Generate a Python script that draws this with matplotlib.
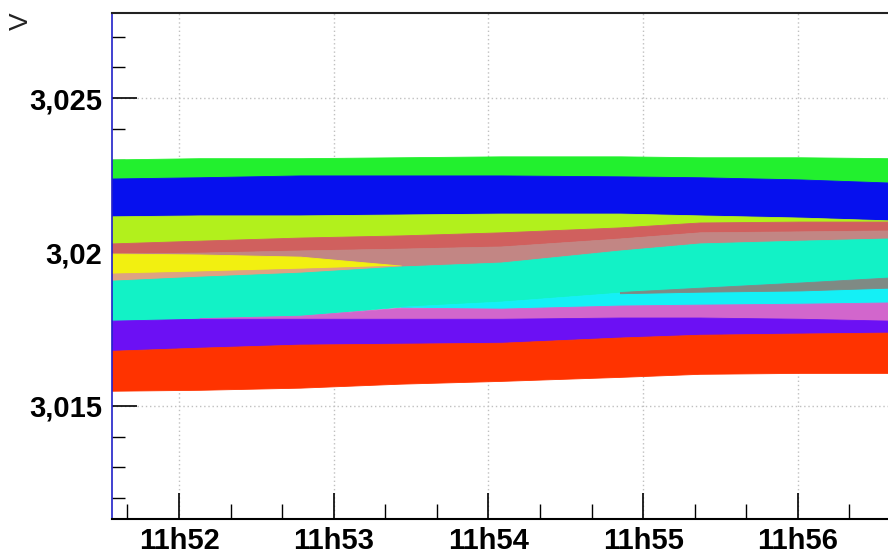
import numpy as np
import pandas as pd
import matplotlib
matplotlib.use("Agg")
import matplotlib.pyplot as plt
import matplotlib.dates as mdates
from matplotlib.ticker import FixedLocator, FixedFormatter

# ---------------- data ----------------
times = ["11:51:34", "11:52:08", "11:52:47", "11:53:26", "11:54:05",
         "11:54:51", "11:55:22", "11:56:01", "11:56:35"]

nan = np.nan
green_hi = [3.02301, 3.02305, 3.02305, 3.02308, 3.02311, 3.02311, 3.02308, 3.02308, 3.02305]
green_lo = [3.02239, 3.02243, 3.02249, 3.02249, 3.02249, 3.02246, 3.02243, 3.02236, 3.02226]
blue_hi = [3.02239, 3.02243, 3.02249, 3.02249, 3.02249, 3.02246, 3.02243, 3.02236, 3.02226]
blue_lo = [3.02116, 3.02119, 3.02119, 3.02122, 3.02125, 3.02125, 3.02119, 3.02112, 3.02103]
lime_hi = [3.02116, 3.02119, 3.02119, 3.02122, 3.02125, 3.02125, 3.02119, 3.02112, 3.02103]
lime_lo = [3.02028, 3.02037, 3.02047, 3.02054, 3.02064, 3.02080, 3.02096, 3.02099, 3.02099]
indred_hi = [3.02028, 3.02037, 3.02047, 3.02054, 3.02064, 3.02080, 3.02096, 3.02099, 3.02099]
indred_lo = [3.01995, 3.01998, 3.02005, 3.02011, 3.02018, 3.02044, 3.02064, 3.02067, 3.02070]
rosy_hi = [3.01995, 3.01998, 3.02005, 3.02011, 3.02018, 3.02044, 3.02064, 3.02067, 3.02070]
rosy_lo = [3.01907, 3.01920, 3.01933, 3.01953, 3.01966, 3.02005, 3.02028, 3.02037, 3.02044]
yellow_hi = [3.01995, 3.01992, 3.01985, 3.01956, nan, nan, nan, nan, nan]
yellow_lo = [3.01930, 3.01937, 3.01946, 3.01956, nan, nan, nan, nan, nan]
tan_hi = [3.01930, 3.01937, 3.01946, 3.01956, nan, nan, nan, nan, nan]
tan_lo = [3.01907, 3.01920, 3.01933, 3.01953, nan, nan, nan, nan, nan]
aqua_hi = [3.01907, 3.01920, 3.01933, 3.01953, 3.01966, 3.02005, 3.02028, 3.02037, 3.02044]
aqua_lo = [3.01777, 3.01783, 3.01793, 3.01822, 3.01839, 3.01868, 3.01884, 3.01901, 3.01917]
cyan_hi = [nan, nan, nan, 3.01822, 3.01839, 3.01868, 3.01884, 3.01901, 3.01917]
cyan_lo = [nan, nan, nan, 3.01821, 3.01816, 3.01826, 3.01829, 3.01832, 3.01836]
gray_hi = [nan, nan, nan, nan, nan, 3.01870, 3.01884, 3.01901, 3.01917]
gray_lo = [nan, nan, nan, nan, nan, 3.01866, 3.01871, 3.01875, 3.01884]
orchid_hi = [nan, 3.01785, 3.01793, 3.01819, 3.01816, 3.01826, 3.01829, 3.01832, 3.01836]
orchid_lo = [nan, 3.01783, 3.01783, 3.01783, 3.01783, 3.01787, 3.01787, 3.01783, 3.01777]
purple_hi = [3.01777, 3.01783, 3.01783, 3.01783, 3.01783, 3.01787, 3.01787, 3.01783, 3.01777]
purple_lo = [3.01679, 3.01689, 3.01699, 3.01702, 3.01705, 3.01722, 3.01731, 3.01735, 3.01738]
red_hi = [3.01679, 3.01689, 3.01699, 3.01702, 3.01705, 3.01722, 3.01731, 3.01735, 3.01738]
red_lo = [3.01549, 3.01552, 3.01559, 3.01572, 3.01581, 3.01594, 3.01604, 3.01607, 3.01607]

series_names = ["green", "blue", "lime", "indianred", "rosybrown", "yellow", "tan",
                "aquamarine", "cyan", "gray", "orchid", "purple", "red"]
series_colors = ["#22f02e", "#0610ee", "#b2f01c", "#d0605e", "#c28684", "#f2f010", "#dea282",
                 "#12f2c6", "#14f0f6", "#7f8a84", "#d266cc", "#6c10f4", "#ff3300"]
series_bounds = [(green_lo, green_hi), (blue_lo, blue_hi), (lime_lo, lime_hi),
                 (indred_lo, indred_hi), (rosy_lo, rosy_hi), (yellow_lo, yellow_hi),
                 (tan_lo, tan_hi), (aqua_lo, aqua_hi), (cyan_lo, cyan_hi),
                 (gray_lo, gray_hi), (orchid_lo, orchid_hi), (purple_lo, purple_hi),
                 (red_lo, red_hi)]

ytick_vals = [3.015, 3.02, 3.025]
ytick_labels = ["3,015", "3,02", "3,025"]
xtick_times = ["11:52", "11:53", "11:54", "11:55", "11:56"]
xtick_labels = ["11h52", "11h53", "11h54", "11h55", "11h56"]
x_range = ["11:51:34", "11:56:35"]
y_range = [3.01132, 3.02777]

# ---------------- plot ----------------
day = "2020-01-01 "
t = pd.to_datetime([day + s for s in times])

fig = plt.figure(figsize=(8.88, 5.56), dpi=100)
ax = fig.add_axes([112 / 888, 1 - 519 / 556, 776 / 888, (519 - 13) / 556])

for name, col, (lo, hi) in zip(series_names, series_colors, series_bounds):
    ax.fill_between(t, np.array(lo, float), np.array(hi, float), color=col,
                    linewidth=0.6, edgecolor=col, zorder=2)

ax.set_xlim(pd.to_datetime(day + x_range[0]), pd.to_datetime(day + x_range[1]))
ax.set_ylim(*y_range)

font = ["Liberation Sans", "DejaVu Sans"]

ax.yaxis.set_major_locator(FixedLocator(ytick_vals))
ax.yaxis.set_major_formatter(FixedFormatter(ytick_labels))
ax.yaxis.set_minor_locator(FixedLocator(np.arange(3.012, 3.0275, 0.001)))

xt = mdates.date2num(pd.to_datetime([day + s for s in xtick_times]))
ax.xaxis.set_major_locator(FixedLocator(xt))
ax.xaxis.set_major_formatter(FixedFormatter(xtick_labels))
ax.xaxis.set_minor_locator(mdates.SecondLocator(bysecond=[0, 20, 40]))

ax.tick_params(axis="both", which="both", direction="in", colors="black")
ax.tick_params(axis="y", which="major", length=18, width=1.2, pad=7, left=True, right=False)
ax.tick_params(axis="y", which="minor", length=9, width=1.0, left=True, right=False)
ax.tick_params(axis="x", which="major", length=19, width=1.2, pad=6, bottom=True, top=False)
ax.tick_params(axis="x", which="minor", length=11, width=1.0, bottom=True, top=False)

for lab in ax.get_xticklabels() + ax.get_yticklabels():
    lab.set_fontfamily(font)
    lab.set_fontweight("bold")
    lab.set_fontsize(21)

ax.grid(True, which="major", color="#c0c0c0", linestyle=(0, (1, 2)), linewidth=1.0, zorder=0)
ax.set_axisbelow(True)

ax.spines["right"].set_visible(False)
ax.spines["top"].set_color("#222222")
ax.spines["top"].set_linewidth(1.5)
ax.spines["bottom"].set_color("black")
ax.spines["bottom"].set_linewidth(1.5)
ax.spines["left"].set_color("#2020c8")
ax.spines["left"].set_linewidth(1.2)

fig.text(21 / 888, 1 - 21 / 556, "V", rotation=90, ha="center", va="center",
         fontsize=19, family=["Liberation Sans", "DejaVu Sans"], color="#222222")

fig.savefig("out.png", dpi=100)
